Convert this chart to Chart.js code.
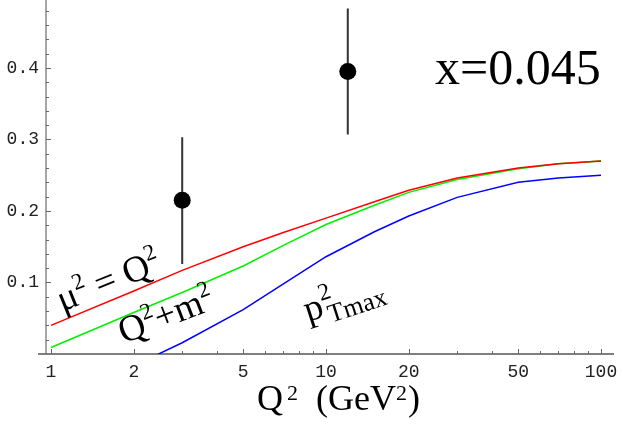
<!DOCTYPE html>
<html>
<head>
<meta charset="utf-8">
<script src="https://cdn.jsdelivr.net/npm/chart.js@4.4.0/dist/chart.umd.min.js"></script>
<style>
  html, body { margin: 0; padding: 0; background: #fff; }
  #wrap { width: 623px; height: 442px; position: relative; }
</style>
</head>
<body>
<div id="wrap"><canvas id="chart"></canvas></div>
<script>
// curves (Q^2 in GeV^2)
const q2Grid   = [1, 2, 3, 5, 7, 10, 15, 20, 30, 50, 70, 100];
const muEqQ2   = [0.040, 0.088, 0.117, 0.150, 0.170, 0.190, 0.213, 0.229, 0.246, 0.260, 0.266, 0.270];
const q2PlusM2 = [0.009, 0.058, 0.086, 0.123, 0.152, 0.181, 0.208, 0.226, 0.244, 0.259, 0.266, 0.270];
const pTmax2   = [-0.050, -0.0165, 0.0157, 0.062, 0.098, 0.136, 0.171, 0.193, 0.219, 0.240, 0.246, 0.250];

// data points with error bars
const dataQ2      = [3, 12];
const dataVal     = [0.215, 0.395];
const dataErrLow  = [0.126, 0.307];
const dataErrHigh = [0.303, 0.483];

// axes
const xTickValues = [1, 2, 5, 10, 20, 50, 100];
const xTickLabels = ['1', '2', '5', '10', '20', '50', '100'];
const xMinorTicks = [3, 4, 6, 7, 8, 9, 30, 40, 60, 70, 80, 90];
const yTickValues = [0.1, 0.2, 0.3, 0.4];
const yTickLabels = ['0.1', '0.2', '0.3', '0.4'];
const yMinorTicks = [0.02, 0.04, 0.06, 0.08, 0.12, 0.14, 0.16, 0.18, 0.22, 0.24, 0.26, 0.28,
                     0.32, 0.34, 0.36, 0.38, 0.42, 0.44, 0.46, 0.48];
const xMin = 0.959, xMax = 111.5;
const yMin = 0, yMax = 0.495;

const SERIF = '"Liberation Serif", "Times New Roman", serif';

// draws text made of pieces (superscripts / subscripts), rotated
function drawRich(ctx, parts, x, y, angle) {
    ctx.save();
    ctx.translate(x, y);
    ctx.rotate(angle * Math.PI / 180);
    ctx.fillStyle = '#000';
    ctx.textBaseline = 'alphabetic';
    ctx.textAlign = 'left';
    let cx = 0;
    parts.forEach(p => {
        ctx.font = p.size + 'px ' + SERIF;
        ctx.fillText(p.t, cx + (p.dx || 0), -(p.up || 0));
        if (!p.noAdvance) cx += ctx.measureText(p.t).width + (p.dx || 0);
    });
    ctx.restore();
}

const axesPlugin = {
    id: 'axes',
    beforeDatasetsDraw(chart) {
        const ctx = chart.ctx;
        const a = chart.chartArea;
        const xs = chart.scales.x, ys = chart.scales.y;
        ctx.save();
        // y axis
        ctx.strokeStyle = '#888';
        ctx.lineWidth = 1.5;
        ctx.beginPath();
        ctx.moveTo(a.left, a.top);
        ctx.lineTo(a.left, a.bottom);
        ctx.stroke();
        // x axis (runs a little past the y axis, like the original)
        ctx.strokeStyle = '#555';
        ctx.beginPath();
        ctx.moveTo(a.left - 8, a.bottom);
        ctx.lineTo(a.right, a.bottom);
        ctx.stroke();
        // tick marks, drawn inward
        ctx.strokeStyle = '#666';
        ctx.lineWidth = 1;
        ctx.beginPath();
        xTickValues.forEach(v => {
            const px = Math.round(xs.getPixelForValue(v)) + 0.5;
            ctx.moveTo(px, a.bottom); ctx.lineTo(px, a.bottom - 5);
        });
        xMinorTicks.forEach(v => {
            const px = Math.round(xs.getPixelForValue(v)) + 0.5;
            ctx.moveTo(px, a.bottom); ctx.lineTo(px, a.bottom - 3);
        });
        yTickValues.forEach(v => {
            const py = Math.round(ys.getPixelForValue(v)) + 0.5;
            ctx.moveTo(a.left, py); ctx.lineTo(a.left + 5, py);
        });
        yMinorTicks.forEach(v => {
            const py = Math.round(ys.getPixelForValue(v)) + 0.5;
            ctx.moveTo(a.left, py); ctx.lineTo(a.left + 3, py);
        });
        ctx.stroke();

        // error bars
        ctx.strokeStyle = '#333';
        ctx.lineWidth = 2;
        ctx.beginPath();
        dataQ2.forEach((q, i) => {
            const px = xs.getPixelForValue(q);
            ctx.moveTo(px, ys.getPixelForValue(dataErrLow[i]));
            ctx.lineTo(px, ys.getPixelForValue(dataErrHigh[i]));
        });
        ctx.stroke();
        ctx.restore();
    }
};

const labelPlugin = {
    id: 'labels',
    afterDraw(chart) {
        const ctx = chart.ctx;
        const xs = chart.scales.x, ys = chart.scales.y;
        const at = (q, v) => [xs.getPixelForValue(q), ys.getPixelForValue(v)];

        let p = at(1.10, 0.059);
        drawRich(ctx, [
            { t: 'μ', size: 37 },
            { t: '2', size: 23, up: 15 },
            { t: ' = Q', size: 37 },
            { t: '2', size: 23, up: 15 }
        ], p[0], p[1], -22);

        p = at(1.84, 0.0143);
        drawRich(ctx, [
            { t: 'Q', size: 37 },
            { t: '2', size: 23, up: 15 },
            { t: '+m', size: 37 },
            { t: '2', size: 23, up: 15 }
        ], p[0], p[1], -21);

        p = at(8.6, 0.045);
        drawRich(ctx, [
            { t: 'p', size: 37 },
            { t: '2', size: 24, up: 16, noAdvance: true },
            { t: 'T', size: 26, up: -8, dx: 3 },
            { t: 'max', size: 26, up: -8 }
        ], p[0], p[1], -18);

        p = at(24.9, 0.378);
        drawRich(ctx, [{ t: 'x=0.045', size: 50 }], p[0], p[1], 0);

        // axis title
        drawRich(ctx, [
            { t: 'Q', size: 36 },
            { t: '2', size: 22, up: 10, dx: 4 },
            { t: '  (GeV', size: 36 },
            { t: '2', size: 22, up: 10 },
            { t: ')', size: 36, dx: 1 }
        ], 257, 410, 0);
    }
};

const toXY = (xs, ys) => xs.map((x, i) => ({ x: x, y: ys[i] }));

const curve = (ys, color) => ({
    data: toXY(q2Grid, ys),
    borderColor: color,
    borderWidth: 1.5,
    pointRadius: 0,
    tension: 0,
    fill: false
});

new Chart(document.getElementById('chart').getContext('2d'), {
    type: 'line',
    data: {
        datasets: [
            curve(muEqQ2, '#ff0000'),
            curve(q2PlusM2, '#00f000'),
            curve(pTmax2, '#0000ff'),
            { type: 'scatter', data: toXY(dataQ2, dataVal), pointRadius: 8.5, pointBackgroundColor: '#000', pointBorderWidth: 0, showLine: false, clip: false }
        ]
    },
    options: {
        responsive: true,
        maintainAspectRatio: false,
        animation: false,
        layout: { autoPadding: false, padding: { top: 0, right: 9, left: 0, bottom: 0 } },
        plugins: { legend: { display: false }, tooltip: { enabled: false } },
        scales: {
            x: {
                type: 'logarithmic',
                min: xMin,
                max: xMax,
                grid: { display: false, drawTicks: false },
                border: { display: false },
                afterBuildTicks: s => { s.ticks = xTickValues.map(v => ({ value: v })); },
                afterFit: s => { s.height = 88; s.paddingLeft = 0; s.paddingRight = 0; },
                ticks: {
                    autoSkip: false,
                    maxRotation: 0,
                    padding: 7,
                    color: '#222',
                    font: { family: 'Liberation Mono', size: 18 },
                    callback: v => xTickLabels[xTickValues.indexOf(v)]
                }
            },
            y: {
                min: yMin,
                max: yMax,
                grid: { display: false, drawTicks: false },
                border: { display: false },
                afterBuildTicks: s => { s.ticks = yTickValues.map(v => ({ value: v })); },
                afterFit: s => { s.width = 46; s.paddingTop = 0; s.paddingBottom = 0; },
                ticks: {
                    padding: 7,
                    color: '#222',
                    font: { family: 'Liberation Mono', size: 18 },
                    callback: v => yTickLabels[yTickValues.indexOf(v)]
                }
            }
        }
    },
    plugins: [axesPlugin, labelPlugin]
});
</script>
</body>
</html>
